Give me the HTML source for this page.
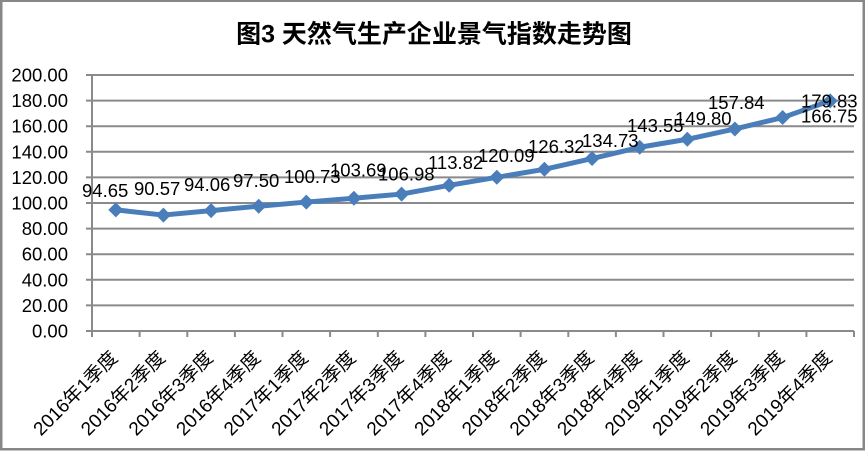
<!DOCTYPE html>
<html>
<head>
<meta charset="utf-8">
<style>
  html, body { margin: 0; padding: 0; background: #ffffff; }
  svg { display: block; }
  text { font-family: "Liberation Sans", "Noto Sans CJK SC", sans-serif; fill: #000; }
</style>
</head>
<body>
<svg width="867" height="451" viewBox="0 0 867 451" xmlns="http://www.w3.org/2000/svg">
  <rect x="0" y="0" width="867" height="451" fill="#ffffff"/>
  <!-- outer frame -->
  <rect x="1.25" y="0.75" width="862.5" height="448.5" fill="none" stroke="#878787" stroke-width="2.5"/>

  <!-- title -->
  <text x="434" y="42.5" text-anchor="middle" font-size="25" font-weight="bold">图3 天然气生产企业景气指数走势图</text>

  <!-- gridlines -->
  <g stroke="#8a8a8a" stroke-width="2">
    <line x1="86" y1="75" x2="854" y2="75"/>
    <line x1="86" y1="100.6" x2="854" y2="100.6"/>
    <line x1="86" y1="126.2" x2="854" y2="126.2"/>
    <line x1="86" y1="151.8" x2="854" y2="151.8"/>
    <line x1="86" y1="177.4" x2="854" y2="177.4"/>
    <line x1="86" y1="203" x2="854" y2="203"/>
    <line x1="86" y1="228.6" x2="854" y2="228.6"/>
    <line x1="86" y1="254.2" x2="854" y2="254.2"/>
    <line x1="86" y1="279.8" x2="854" y2="279.8"/>
    <line x1="86" y1="305.4" x2="854" y2="305.4"/>
    <line x1="86" y1="331" x2="854" y2="331"/>
    <!-- y axis -->
    <line x1="92" y1="75" x2="92" y2="331"/>
    <!-- x ticks -->
    <line x1="92" y1="331" x2="92" y2="337"/>
    <line x1="139.6" y1="331" x2="139.6" y2="337"/>
    <line x1="187.3" y1="331" x2="187.3" y2="337"/>
    <line x1="234.9" y1="331" x2="234.9" y2="337"/>
    <line x1="282.5" y1="331" x2="282.5" y2="337"/>
    <line x1="330.1" y1="331" x2="330.1" y2="337"/>
    <line x1="377.8" y1="331" x2="377.8" y2="337"/>
    <line x1="425.4" y1="331" x2="425.4" y2="337"/>
    <line x1="473" y1="331" x2="473" y2="337"/>
    <line x1="520.6" y1="331" x2="520.6" y2="337"/>
    <line x1="568.3" y1="331" x2="568.3" y2="337"/>
    <line x1="615.9" y1="331" x2="615.9" y2="337"/>
    <line x1="663.5" y1="331" x2="663.5" y2="337"/>
    <line x1="711.1" y1="331" x2="711.1" y2="337"/>
    <line x1="758.8" y1="331" x2="758.8" y2="337"/>
    <line x1="806.4" y1="331" x2="806.4" y2="337"/>
    <line x1="854" y1="331" x2="854" y2="337"/>
  </g>

  <!-- y labels -->
  <g font-size="18.5" text-anchor="end" dominant-baseline="central">
    <text x="68" y="75">200.00</text>
    <text x="68" y="100.6">180.00</text>
    <text x="68" y="126.2">160.00</text>
    <text x="68" y="151.8">140.00</text>
    <text x="68" y="177.4">120.00</text>
    <text x="68" y="203">100.00</text>
    <text x="68" y="228.6">80.00</text>
    <text x="68" y="254.2">60.00</text>
    <text x="68" y="279.8">40.00</text>
    <text x="68" y="305.4">20.00</text>
    <text x="68" y="331">0.00</text>
  </g>

  <!-- series line -->
  <polyline fill="none" stroke="#4A7EBB" stroke-width="5" stroke-linejoin="round"
    points="115.8,209.85 163.4,215.07 211.1,210.6 258.7,206.2 306.3,202.07 353.9,198.28 401.6,194.07 449.2,185.31 496.8,177.28 544.4,169.31 592.1,158.55 639.7,147.26 687.3,139.26 734.9,128.96 782.6,117.56 830.2,100.82"/>
  <!-- markers -->
  <g fill="#4A7EBB">
    <polygon points="115.8,202.35 123.3,209.85 115.8,217.35 108.3,209.85"/>
    <polygon points="163.4,207.57 170.9,215.07 163.4,222.57 155.9,215.07"/>
    <polygon points="211.1,203.1 218.6,210.6 211.1,218.1 203.6,210.6"/>
    <polygon points="258.7,198.7 266.2,206.2 258.7,213.7 251.2,206.2"/>
    <polygon points="306.3,194.57 313.8,202.07 306.3,209.57 298.8,202.07"/>
    <polygon points="353.9,190.78 361.4,198.28 353.9,205.78 346.4,198.28"/>
    <polygon points="401.6,186.57 409.1,194.07 401.6,201.57 394.1,194.07"/>
    <polygon points="449.2,177.81 456.7,185.31 449.2,192.81 441.7,185.31"/>
    <polygon points="496.8,169.78 504.3,177.28 496.8,184.78 489.3,177.28"/>
    <polygon points="544.4,161.81 551.9,169.31 544.4,176.81 536.9,169.31"/>
    <polygon points="592.1,151.05 599.6,158.55 592.1,166.05 584.6,158.55"/>
    <polygon points="639.7,139.76 647.2,147.26 639.7,154.76 632.2,147.26"/>
    <polygon points="687.3,131.76 694.8,139.26 687.3,146.76 679.8,139.26"/>
    <polygon points="734.9,121.46 742.4,128.96 734.9,136.46 727.4,128.96"/>
    <polygon points="782.6,110.06 790.1,117.56 782.6,125.06 775.1,117.56"/>
    <polygon points="830.2,93.32 837.7,100.82 830.2,108.32 822.7,100.82"/>
  </g>

  <!-- data labels -->
  <g font-size="18.5">
    <text x="82" y="197">94.65</text>
    <text x="134" y="195">90.57</text>
    <text x="184" y="191">94.06</text>
    <text x="233" y="187">97.50</text>
    <text x="284" y="183">100.73</text>
    <text x="330" y="176.5">103.69</text>
    <text x="378" y="180.5">106.98</text>
    <text x="428" y="169">113.82</text>
    <text x="478" y="162">120.09</text>
    <text x="528" y="153">126.32</text>
    <text x="582" y="147">134.73</text>
    <text x="627" y="132">143.55</text>
    <text x="675" y="125">149.80</text>
    <text x="708" y="109">157.84</text>
    <text x="801" y="122.5">166.75</text>
    <text x="801" y="107.5">179.83</text>
  </g>

  <!-- x labels -->
  <g font-size="19" text-anchor="end" dominant-baseline="central">
    <text x="114.8" y="355" transform="rotate(-45 114.8 355)">2016年1季度</text>
    <text x="162.4" y="355" transform="rotate(-45 162.4 355)">2016年2季度</text>
    <text x="210.1" y="355" transform="rotate(-45 210.1 355)">2016年3季度</text>
    <text x="257.7" y="355" transform="rotate(-45 257.7 355)">2016年4季度</text>
    <text x="305.3" y="355" transform="rotate(-45 305.3 355)">2017年1季度</text>
    <text x="352.9" y="355" transform="rotate(-45 352.9 355)">2017年2季度</text>
    <text x="400.6" y="355" transform="rotate(-45 400.6 355)">2017年3季度</text>
    <text x="448.2" y="355" transform="rotate(-45 448.2 355)">2017年4季度</text>
    <text x="495.8" y="355" transform="rotate(-45 495.8 355)">2018年1季度</text>
    <text x="543.4" y="355" transform="rotate(-45 543.4 355)">2018年2季度</text>
    <text x="591.1" y="355" transform="rotate(-45 591.1 355)">2018年3季度</text>
    <text x="638.7" y="355" transform="rotate(-45 638.7 355)">2018年4季度</text>
    <text x="686.3" y="355" transform="rotate(-45 686.3 355)">2019年1季度</text>
    <text x="733.9" y="355" transform="rotate(-45 733.9 355)">2019年2季度</text>
    <text x="781.6" y="355" transform="rotate(-45 781.6 355)">2019年3季度</text>
    <text x="829.2" y="355" transform="rotate(-45 829.2 355)">2019年4季度</text>
  </g>
</svg>
</body>
</html>
